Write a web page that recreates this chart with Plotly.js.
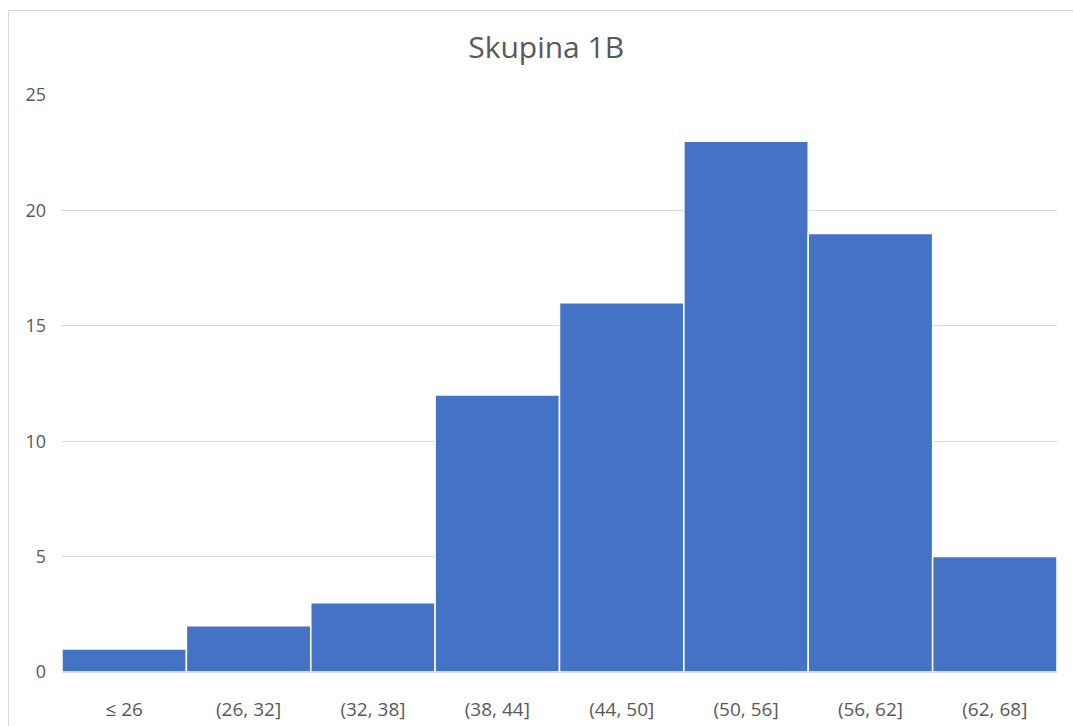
<!DOCTYPE html>
<html>
<head>
<meta charset="utf-8">
<script src="https://cdn.plot.ly/plotly-3.0.1.min.js"></script>
<style>
  html, body { margin: 0; padding: 0; background: #ffffff; }
  #wrap { position: relative; width: 1073px; height: 726px; overflow: hidden; }
  #chart { position: absolute; left: 0; top: 0; width: 1073px; height: 726px; }
  #frame { position: absolute; left: 8px; top: 10px; width: 1100px; height: 760px;
           border: 1px solid #d9d9d9; pointer-events: none; }
</style>
</head>
<body>
<div id="wrap">
  <div id="chart"></div>
  <div id="frame"></div>
</div>
<script>
const categories = ["≤ 26", "(26, 32]", "(32, 38]", "(38, 44]", "(44, 50]", "(50, 56]", "(56, 62]", "(62, 68]"];
const counts = [1, 2, 3, 12, 16, 23, 19, 5];
const yTicks = [0, 5, 10, 15, 20, 25];

const trace = {
  type: "bar",
  x: categories,
  y: counts,
  marker: { color: "#4472c4", line: { color: "#ffffff", width: 1.5 } },
  hoverinfo: "x+y"
};

const layout = {
  width: 1073,
  height: 726,
  paper_bgcolor: "rgba(0,0,0,0)",
  plot_bgcolor: "rgba(0,0,0,0)",
  margin: { l: 62, r: 16, t: 95, b: 54 },
  bargap: 0,
  showlegend: false,
  title: {
    text: "Skupina 1B",
    x: 0.509, xanchor: "center",
    y: 0.934, yanchor: "middle",
    font: { family: "Open Sans, Liberation Sans, sans-serif", size: 30, color: "#595959" }
  },
  xaxis: {
    type: "category",
    showgrid: false,
    showline: false,
    zeroline: false,
    ticks: "",
    ticklabelstandoff: 24,
    tickfont: { family: "Open Sans, Liberation Sans, sans-serif", size: 19, color: "#595959" }
  },
  yaxis: {
    range: [0, 25],
    tickvals: yTicks,
    ticktext: yTicks.map(String),
    showgrid: true,
    gridcolor: "#d9d9d9",
    gridwidth: 1,
    zeroline: true,
    zerolinecolor: "#d9d9d9",
    zerolinewidth: 1,
    showline: false,
    ticks: "",
    ticklabelstandoff: 15,
    tickfont: { family: "Open Sans, Liberation Sans, sans-serif", size: 18, color: "#595959" }
  }
};

Plotly.newPlot("chart", [trace], layout, { displayModeBar: false, staticPlot: true });
</script>
</body>
</html>
